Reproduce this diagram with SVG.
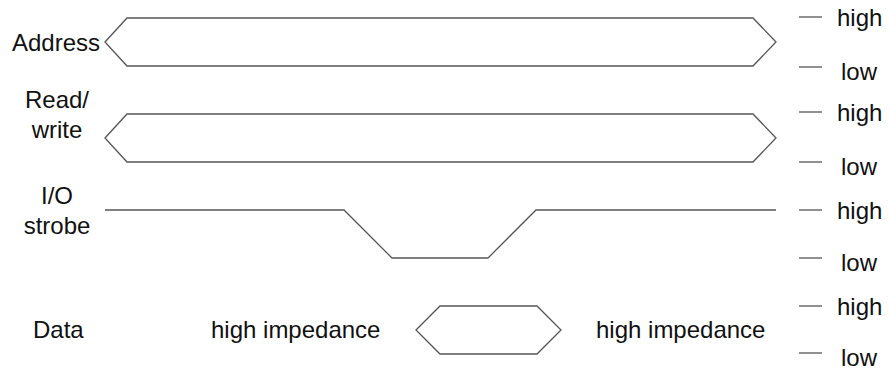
<svg xmlns="http://www.w3.org/2000/svg" width="891" height="370" viewBox="0 0 891 370">
  <style>
    .sig { fill: none; stroke: #555; stroke-width: 1.3; stroke-linejoin: miter; }
    .tick { stroke: #555; stroke-width: 1.3; }
    text { font-family: "Liberation Sans", Arial, sans-serif; font-size: 24px; fill: #111; }
    .mid { text-anchor: middle; }
  </style>
  <rect width="891" height="370" fill="#fff"/>

  <!-- signal names -->
  <g id="label-address"><text x="12" y="51">Address</text></g>
  <g id="label-rw"><text class="mid" x="57" y="108">Read/</text><text class="mid" x="57" y="138">write</text></g>
  <g id="label-io"><text class="mid" x="57" y="204">I/O</text><text class="mid" x="57" y="234">strobe</text></g>
  <g id="label-data"><text x="33" y="338">Data</text></g>

  <!-- waveforms -->
  <g id="waves">
    <polygon id="wave-address" class="sig" points="105,42 127,18 753,18 776,42 753,66 127,66"/>
    <polygon id="wave-rw" class="sig" points="105,138 127,114 753,114 776,138 753,162 127,162"/>
    <polyline id="wave-io" class="sig" points="105,210 344,210 392,258 488,258 536,210 776,210"/>
    <polygon id="wave-data" class="sig" points="416,330 440,306 537,306 561,330 537,354 440,354"/>
  </g>

  <g id="label-hiz">
    <text x="211" y="338">high impedance</text>
    <text x="596" y="338">high impedance</text>
  </g>

  <!-- level legend -->
  <g id="levels">
    <line class="tick" x1="799" y1="17" x2="822" y2="17"/><text x="837" y="26">high</text>
    <line class="tick" x1="799" y1="67" x2="822" y2="67"/><text x="841" y="80">low</text>
    <line class="tick" x1="799" y1="112" x2="822" y2="112"/><text x="837" y="121">high</text>
    <line class="tick" x1="799" y1="162" x2="822" y2="162"/><text x="841" y="175">low</text>
    <line class="tick" x1="799" y1="210" x2="822" y2="210"/><text x="837" y="219">high</text>
    <line class="tick" x1="799" y1="258" x2="822" y2="258"/><text x="841" y="271">low</text>
    <line class="tick" x1="799" y1="306" x2="822" y2="306"/><text x="837" y="315">high</text>
    <line class="tick" x1="799" y1="353" x2="822" y2="353"/><text x="841" y="366">low</text>
  </g>
</svg>
